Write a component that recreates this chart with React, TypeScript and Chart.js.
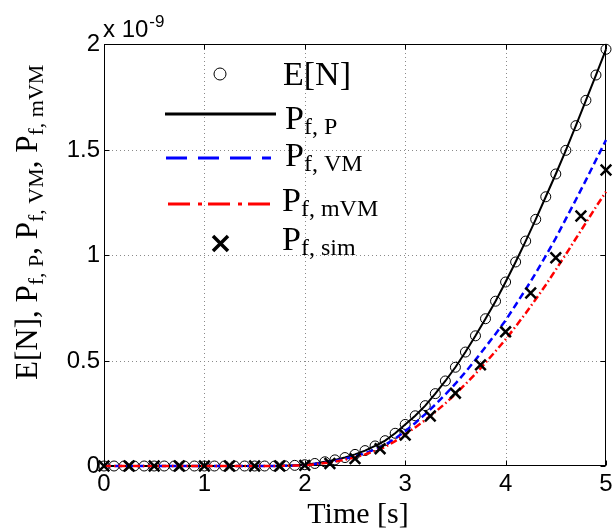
import React, { useEffect, useRef } from "react";
import { Chart, registerables } from "chart.js";
Chart.register(...registerables);

// time grid for E[N] and model curves (s)
const timeGrid = [
  0, 0.1, 0.2, 0.3, 0.4, 0.5, 0.6, 0.7, 0.8, 0.9,
  1.0, 1.1, 1.2, 1.3, 1.4, 1.5, 1.6, 1.7, 1.8, 1.9,
  2.0, 2.1, 2.2, 2.3, 2.4, 2.5, 2.6, 2.7, 2.8, 2.9,
  3.0, 3.1, 3.2, 3.3, 3.4, 3.5, 3.6, 3.7, 3.8, 3.9,
  4.0, 4.1, 4.2, 4.3, 4.4, 4.5, 4.6, 4.7, 4.8, 4.9, 5.0,
];
// values in units of 1e-9
const eN = [
  0, 0, 0, 0, 0, 0, 0, 0, 0, 0,
  0, 0, 0, 0, 0, 0, 0, 0, 0.001, 0.003,
  0.006, 0.012, 0.02, 0.029, 0.04, 0.055, 0.073, 0.095, 0.12, 0.155,
  0.197, 0.238, 0.286, 0.343, 0.403, 0.468, 0.54, 0.617, 0.698, 0.781,
  0.872, 0.967, 1.066, 1.169, 1.276, 1.384, 1.496, 1.613, 1.733, 1.853, 1.975,
];
const pfP = [
  0, 0, 0, 0, 0, 0, 0, 0, 0, 0,
  0, 0, 0, 0, 0, 0, 0, 0, 0.001, 0.003,
  0.006, 0.012, 0.02, 0.029, 0.04, 0.055, 0.073, 0.095, 0.12, 0.155,
  0.197, 0.238, 0.286, 0.343, 0.403, 0.468, 0.54, 0.617, 0.698, 0.781,
  0.872, 0.967, 1.066, 1.169, 1.276, 1.384, 1.496, 1.613, 1.733, 1.853, 1.975,
];
const pfVM = [
  0, 0, 0, 0, 0, 0, 0, 0, 0, 0,
  0, 0, 0, 0, 0, 0, 0, 0, 0.001, 0.002,
  0.005, 0.01, 0.016, 0.024, 0.034, 0.046, 0.061, 0.079, 0.1, 0.13,
  0.165, 0.204, 0.246, 0.291, 0.339, 0.39, 0.445, 0.503, 0.564, 0.626,
  0.69, 0.763, 0.837, 0.914, 0.996, 1.08, 1.171, 1.262, 1.355, 1.45, 1.545,
];
const pfMVM = [
  0, 0, 0, 0, 0, 0, 0, 0, 0, 0,
  0, 0, 0, 0, 0, 0, 0, 0, 0.001, 0.002,
  0.004, 0.008, 0.014, 0.021, 0.03, 0.041, 0.055, 0.071, 0.09, 0.118,
  0.15, 0.183, 0.218, 0.256, 0.297, 0.34, 0.388, 0.437, 0.49, 0.544,
  0.6, 0.661, 0.724, 0.79, 0.858, 0.93, 1.003, 1.078, 1.153, 1.228, 1.3,
];
const simTimes = [
  0, 0.25, 0.5, 0.75, 1.0, 1.25, 1.5, 1.75, 2.0, 2.25,
  2.5, 2.75, 3.0, 3.25, 3.5, 3.75, 4.0, 4.25, 4.5, 4.75, 5.0,
];
const pfSim = [
  0, 0, 0, 0, 0, 0, 0, 0, 0.003, 0.012,
  0.035, 0.082, 0.147, 0.237, 0.345, 0.479, 0.636, 0.82, 0.987, 1.185, 1.403,
];
const xTicks = [0, 1, 2, 3, 4, 5];
const xTickLabels = ["0", "1", "2", "3", "4", "5"];
const yTicks = [0, 0.5, 1, 1.5, 2];
const yTickLabels = ["0", "0.5", "1", "1.5", "2"];

const SANS = "'Liberation Sans', Arial, sans-serif";
const SERIF = "'Liberation Serif', 'Times New Roman', serif";

const pts = (xs: number[], ys: number[]) => xs.map((x, i) => ({ x, y: ys[i] }));

function drawSegments(
  ctx: CanvasRenderingContext2D,
  x: number,
  y: number,
  segs: [string, boolean][],
  mainFont: string,
  subFont: string,
  subDy: number
) {
  let cx = x;
  for (const [t, sub] of segs) {
    ctx.font = sub ? subFont : mainFont;
    ctx.fillText(t, cx, sub ? y + subDy : y);
    cx += ctx.measureText(t).width;
  }
  return cx;
}

const axesPlugin = {
  id: "matlabAxes",
  beforeDatasetsDraw(chart: any) {
    const { ctx, chartArea, scales } = chart;
    const { left, right, top, bottom } = chartArea;
    const xs = scales.x;
    const ys = scales.y;
    ctx.save();
    // grid
    ctx.strokeStyle = "#8a8a8a";
    ctx.lineWidth = 1;
    ctx.setLineDash([1, 3]);
    for (const v of xTicks) {
      if (v === 0 || v === 5) continue;
      const px = Math.round(xs.getPixelForValue(v)) + 0.5;
      ctx.beginPath();
      ctx.moveTo(px, bottom);
      ctx.lineTo(px, top);
      ctx.stroke();
    }
    for (const v of yTicks) {
      if (v === 0 || v === 2) continue;
      const py = Math.round(ys.getPixelForValue(v)) + 0.5;
      ctx.beginPath();
      ctx.moveTo(left, py);
      ctx.lineTo(right, py);
      ctx.stroke();
    }
    ctx.setLineDash([]);
    // box
    ctx.strokeStyle = "#000";
    ctx.lineWidth = 1;
    const L = Math.round(left) + 0.5;
    const R = Math.round(right) - 0.5;
    const T = Math.round(top) + 0.5;
    const B = Math.round(bottom) - 0.5;
    ctx.strokeRect(L, T, R - L, B - T);
    // ticks inward
    const tl = 5;
    ctx.beginPath();
    for (const v of xTicks) {
      const px = Math.round(xs.getPixelForValue(v)) + 0.5;
      ctx.moveTo(px, B);
      ctx.lineTo(px, B - tl);
      ctx.moveTo(px, T);
      ctx.lineTo(px, T + tl);
    }
    for (const v of yTicks) {
      const py = Math.round(ys.getPixelForValue(v)) + 0.5;
      ctx.moveTo(L, py);
      ctx.lineTo(L + tl, py);
      ctx.moveTo(R, py);
      ctx.lineTo(R - tl, py);
    }
    ctx.stroke();
    ctx.restore();
  },
  afterDatasetsDraw(chart: any) {
    const { ctx, chartArea, scales } = chart;
    const { left, right } = chartArea;
    const xs = scales.x;
    const ys = scales.y;
    ctx.save();
    ctx.fillStyle = "#000";
    // tick labels
    ctx.font = `24px ${SANS}`;
    ctx.textBaseline = "alphabetic";
    ctx.textAlign = "center";
    xTicks.forEach((v, i) => {
      ctx.fillText(xTickLabels[i], xs.getPixelForValue(v), 491);
    });
    ctx.textAlign = "right";
    yTicks.forEach((v, i) => {
      ctx.fillText(yTickLabels[i], left - 4, ys.getPixelForValue(v) + 7);
    });
    // exponent label
    ctx.textAlign = "left";
    ctx.font = `24px ${SANS}`;
    ctx.fillText("x 10", 103, 37);
    const w10 = ctx.measureText("x 10").width;
    ctx.font = `17px ${SANS}`;
    ctx.fillText("-9", 103 + w10 + 1, 27);
    // x title
    ctx.font = `30px ${SERIF}`;
    ctx.textAlign = "center";
    ctx.fillText("Time [s]", (left + right) / 2 + 3, 523);
    // y title
    ctx.save();
    ctx.translate(37, 380);
    ctx.rotate(-Math.PI / 2);
    ctx.textAlign = "left";
    drawSegments(
      ctx,
      0,
      0,
      [
        ["E[N], P", false],
        ["f, P", true],
        [", P", false],
        ["f, VM", true],
        [", P", false],
        ["f, mVM", true],
      ],
      `31px ${SERIF}`,
      `22px ${SERIF}`,
      6
    );
    ctx.restore();

    // legend
    const mainF = `34px ${SERIF}`;
    const subF = `24px ${SERIF}`;
    ctx.textAlign = "left";
    // row 1: E[N] circle
    ctx.strokeStyle = "#000";
    ctx.lineWidth = 1;
    ctx.beginPath();
    ctx.arc(220, 74, 6, 0, Math.PI * 2);
    ctx.stroke();
    ctx.font = mainF;
    ctx.fillText("E[N]", 283, 85);
    // row 2: solid black
    ctx.lineWidth = 3;
    ctx.beginPath();
    ctx.moveTo(165, 114);
    ctx.lineTo(276, 114);
    ctx.stroke();
    drawSegments(ctx, 285, 129, [["P", false], ["f, P", true]], mainF, subF, 5);
    // row 3: blue dashed
    ctx.strokeStyle = "#0000ff";
    ctx.setLineDash([21, 11]);
    ctx.beginPath();
    ctx.moveTo(166, 158);
    ctx.lineTo(271, 158);
    ctx.stroke();
    drawSegments(ctx, 285, 166, [["P", false], ["f, VM", true]], mainF, subF, 5);
    // row 4: red dash-dot
    ctx.strokeStyle = "#ff0000";
    ctx.setLineDash([22, 8, 4, 6]);
    ctx.beginPath();
    ctx.moveTo(168, 204);
    ctx.lineTo(271, 204);
    ctx.stroke();
    ctx.setLineDash([]);
    drawSegments(ctx, 282, 211, [["P", false], ["f, mVM", true]], mainF, subF, 5);
    // row 5: cross
    ctx.strokeStyle = "#000";
    ctx.lineWidth = 3.5;
    ctx.beginPath();
    ctx.moveTo(213, 236);
    ctx.lineTo(228, 251);
    ctx.moveTo(228, 236);
    ctx.lineTo(213, 251);
    ctx.stroke();
    drawSegments(ctx, 282, 250, [["P", false], ["f, sim", true]], mainF, subF, 5);
    ctx.restore();
  },
};

export default function App() {
  const ref = useRef<HTMLCanvasElement | null>(null);
  useEffect(() => {
    document.body.style.margin = "0";
    const canvas = ref.current;
    if (!canvas) return;
    const chart = new Chart(canvas, {
      type: "line",
      data: {
        datasets: [
          {
            label: "E[N]",
            data: pts(timeGrid, eN),
            showLine: false,
            pointStyle: "circle",
            pointRadius: 5,
            pointBorderWidth: 1,
            pointBorderColor: "#000",
            pointBackgroundColor: "rgba(0,0,0,0)",
            borderColor: "#000",
            clip: false,
            order: 4,
          },
          {
            label: "Pf,P",
            data: pts(timeGrid, pfP),
            borderColor: "#000",
            borderWidth: 2,
            pointRadius: 0,
            tension: 0,
            clip: false,
            order: 3,
          },
          {
            label: "Pf,VM",
            data: pts(timeGrid, pfVM),
            borderColor: "#0000ff",
            borderWidth: 2.5,
            borderDash: [7, 4],
            pointRadius: 0,
            clip: false,
            order: 2,
          },
          {
            label: "Pf,mVM",
            data: pts(timeGrid, pfMVM),
            borderColor: "#ff0000",
            borderWidth: 2.5,
            borderDash: [7, 3, 1.5, 3],
            pointRadius: 0,
            clip: false,
            order: 1,
          },
          {
            label: "Pf,sim",
            data: pts(simTimes, pfSim),
            showLine: false,
            pointStyle: "crossRot",
            pointRadius: 7.5,
            pointBorderWidth: 2.5,
            pointBorderColor: "#000",
            borderColor: "#000",
            clip: false,
            order: 0,
          },
        ] as any,
      },
      options: {
        responsive: false,
        animation: false,
        devicePixelRatio: 1,
        layout: { padding: { left: 104, right: 5, top: 44, bottom: 65 } },
        plugins: { legend: { display: false }, tooltip: { enabled: false } },
        scales: {
          x: { type: "linear", min: 0, max: 5, display: false },
          y: { type: "linear", min: 0, max: 2, display: false },
        },
      } as any,
      plugins: [axesPlugin],
    });
    return () => chart.destroy();
  }, []);
  return <canvas ref={ref} width={616} height={531} style={{ display: "block" }} />;
}
